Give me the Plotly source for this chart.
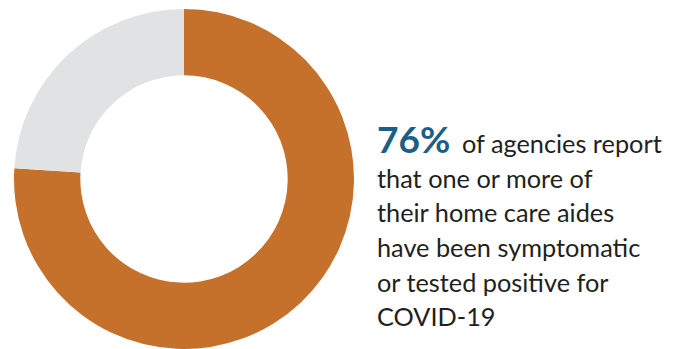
import plotly.graph_objects as go

labels = ["Reported symptomatic/positive aides", "Did not report"]
values = [76, 24]
colors = ["#C5702B", "#E1E2E3"]
headline = "76%"
body_lines = ["of agencies report", "that one or more of", "their home care aides",
              "have been symptomatic", "or tested positive for", "COVID-19"]

W, H = 696, 349
fig = go.Figure(go.Pie(
    labels=labels, values=values, hole=0.61, sort=False, direction="clockwise",
    rotation=0, marker=dict(colors=colors, line=dict(width=0)),
    textinfo="none", hoverinfo="label+percent", showlegend=False,
    domain=dict(x=[14 / W, 354 / W], y=[0, 1 - 9 / H]),
))

def py(p):
    return 1 - p / H

BODY = 25.3
# baseline pixel positions of each text line
baselines = [153, 188, 222, 257, 292, 326]
off = 10.5  # approx distance from box middle to baseline

fig.add_annotation(
    text="<b>" + headline + "</b>", xref="paper", yref="paper",
    x=375 / W, y=py(baselines[0] - 14.5), xanchor="left", yanchor="middle",
    showarrow=False, font=dict(family="Lato", size=37, color="#1B5E87"),
)
fig.add_annotation(
    text=body_lines[0], xref="paper", yref="paper",
    x=460 / W, y=py(baselines[0] - off), xanchor="left", yanchor="middle",
    showarrow=False, font=dict(family="Lato", size=BODY, color="#231F20"),
)
for line, b in zip(body_lines[1:], baselines[1:]):
    fig.add_annotation(
        text=line, xref="paper", yref="paper",
        x=375 / W, y=py(b - off), xanchor="left", yanchor="middle",
        showarrow=False, font=dict(family="Lato", size=BODY, color="#231F20"),
    )
fig.update_layout(width=W, height=H, margin=dict(l=0, r=0, t=0, b=0),
                  paper_bgcolor="white", plot_bgcolor="white")
fig.write_html("out.html")
